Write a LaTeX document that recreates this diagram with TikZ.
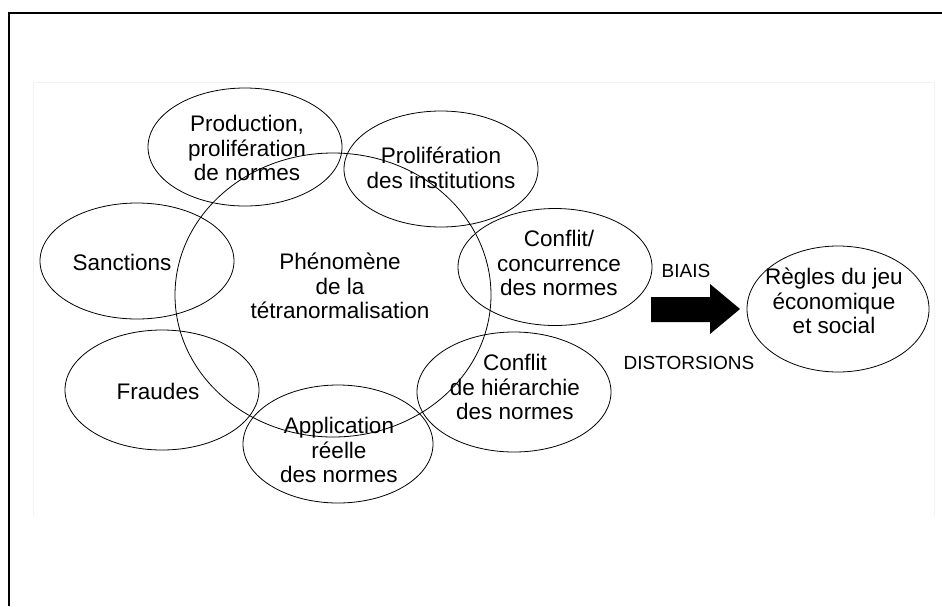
\documentclass[tikz,border=0pt]{standalone}
\usepackage{fontspec}
\setmainfont{Liberation Sans}
\usetikzlibrary{shapes.geometric}

\begin{document}
\begin{tikzpicture}[x=1pt,y=-1pt,
        bulle/.style={draw,ellipse,line width=0.8pt,inner sep=0pt,
            minimum width=194pt,minimum height=117pt},
        texte/.style={align=center,inner sep=0pt,font=\fontsize{22.5}{24.5}\selectfont},
        marge/.style={inner sep=0pt,font=\fontsize{19}{22}\selectfont}]
    \useasboundingbox (0,0) rectangle (942,606);
    % cadre
    \draw[black!5,line width=0.6pt] (33,516) -- (33,82) -- (934,82) -- (934,516);
    \draw[line width=2pt] (9.3,606) -- (9.3,12.7) -- (942,12.7);

    % ellipses
    \node[bulle,minimum width=316pt,minimum height=284pt] (a) at (333,295) {};
    \node[bulle,minimum height=118pt] (b) at (245,147) {};
    \node[bulle,minimum height=116pt] (c) at (441,169) {};
    \node[bulle] (d) at (555,267) {};
    \node[bulle,minimum height=120pt] (e) at (514,392) {};
    \node[bulle,minimum width=190pt,minimum height=118pt] (f) at (338,444) {};
    \node[bulle,minimum height=120pt] (g) at (162,390) {};
    \node[bulle,minimum height=116pt] (h) at (137,261) {};
    \node[bulle,minimum width=182pt,minimum height=126pt] (i) at (838,309) {};

    % textes
    \node[texte] (at) at (340,286) {Phénomène\\de la\\tétranormalisation};
    \node[texte] (bt) at (247,148) {Production,\\prolifération\\de normes};
    \node[texte] (ct) at (441,168) {Prolifération\\des institutions};
    \node[texte] (dt) at (559,263) {Conflit/\\concurrence\\des normes};
    \node[texte] (et) at (515,387) {Conflit\\de hiérarchie\\des normes};
    \node[texte] (ft) at (339,450) {Application\\réelle\\des normes};
    \node[texte] (gt) at (158,391) {Fraudes};
    \node[texte] (ht) at (122,262) {Sanctions};
    \node[texte] (it) at (834,301) {Règles du jeu\\économique\\et social};

    % fleche
    \coordinate (j) at (651,309.5);
    \fill (j) ++(0,-12.5) -- ++(59,0) -- (710,284) -- (740,309) -- (710,334)
        -- (710,322) -- (651,322) -- cycle;
    \node[marge] (k) at (686,271) {BIAIS};
    \node[marge] (l) at (689,363) {DISTORSIONS};
\end{tikzpicture}
\end{document}
